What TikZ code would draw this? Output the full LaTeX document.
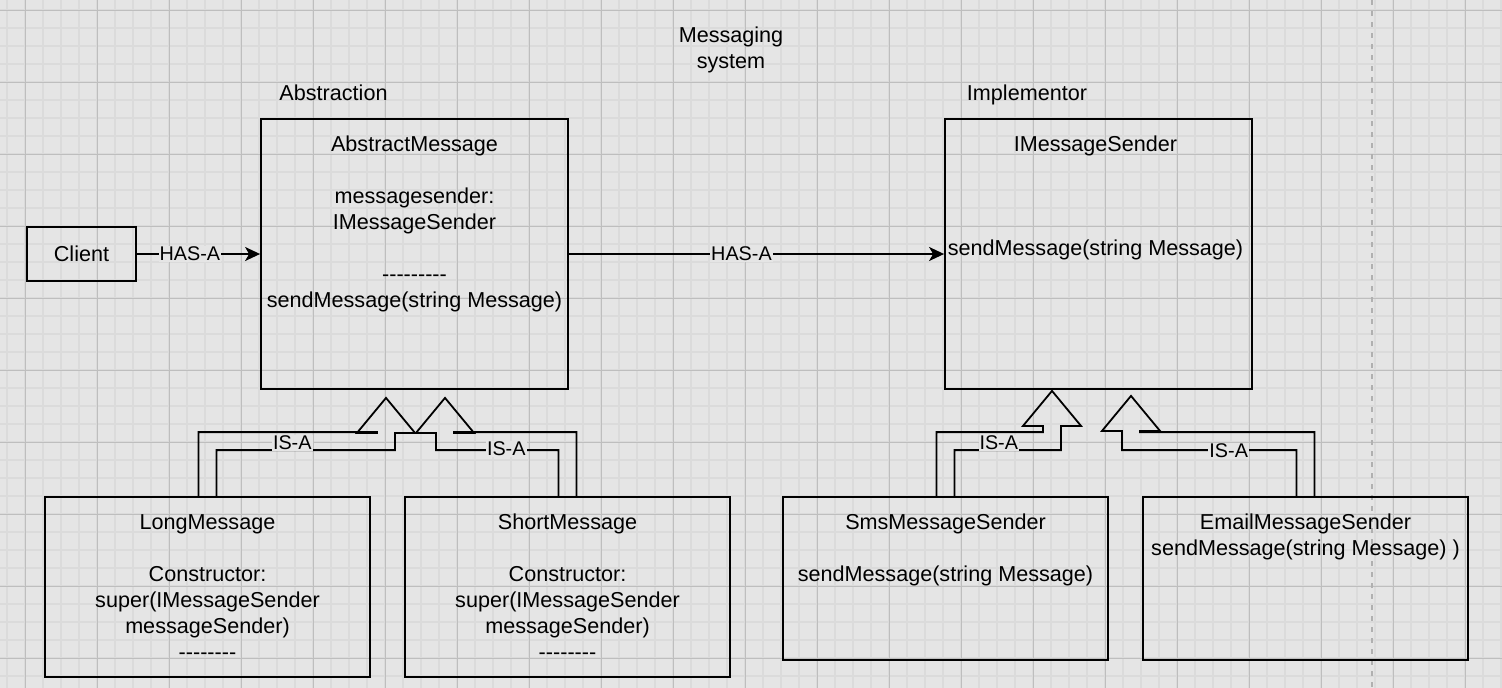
\documentclass[tikz,border=0pt]{standalone}
\usepackage{fontspec}
\setmainfont{Liberation Sans}
\usetikzlibrary{calc,arrows.meta}

\definecolor{canvas}{HTML}{E5E5E5}
\definecolor{gridminor}{HTML}{DBDBDB}
\definecolor{gridmajor}{HTML}{BEBEBE}
\definecolor{pageline}{HTML}{B0B0B0}

\tikzset{
	box/.style={draw,line width=1.8pt,rectangle,inner sep=0pt},
	boxtext/.style={anchor=north,align=center,inner sep=0pt,font=\fontsize{21.6}{26}\selectfont},
	edgelabel/.style={fill=canvas,inner sep=1pt,font=\fontsize{19.8}{24}\selectfont},
	hasa/.style={line width=1.8pt,-{Stealth[length=15pt,width=14pt,inset=4pt]}},
	isa/.style={line width=1.8pt,line join=miter},
}

% row of single hyphens (no dash ligatures)
\newcommand{\dashrow}[1]{\foreach \i in {1,...,#1}{\mbox{-}}}
% hollow IS-A arrow: #1 start, #2 tip, #3 direction (+1 right, -1 left)
\newcommand{\isaarrow}[3]{%
	\draw[isa] ($(#1)+({-9*(#3)},0)$) -- ++(0,-64)
		-| ($(#2)+({-9*(#3)},35)$) -- ++({-20*(#3)},0) -- (#2)
		-- ++({29*(#3)},35) -- ++({-20*(#3)},0)
		|- ($(#1)+({9*(#3)},-46)$) -- ++(0,46);
}

\begin{document}
\begin{tikzpicture}[x=1pt,y=-1pt]
	\fill[canvas] (0,0) rectangle (1502,688);
	\useasboundingbox (0,0) rectangle (1502,688);
	\foreach \gx in {7,25,...,1501} \draw[gridminor,line width=1.5pt] (\gx,0) -- (\gx,688);
	\foreach \gy in {10,28,...,676} \draw[gridminor,line width=1.5pt] (0,\gy) -- (1502,\gy);
	\foreach \gx in {25,97,...,1465} \draw[gridmajor,line width=1pt] (\gx,0) -- (\gx,688);
	\foreach \gy in {10,82,...,658} \draw[gridmajor,line width=1pt] (0,\gy) -- (1502,\gy);
	\draw[pageline,line width=1.5pt,dash pattern=on 5pt off 6pt] (1372,0) -- (1372,688);

	\node[boxtext] (title) at (731,27) {Messaging\\system};
	\node[boxtext,anchor=base] (abstraction) at (333.5,100) {Abstraction};
	\node[boxtext,anchor=base] (implementor) at (1027,100) {Implementor};

	\node[box,minimum width=109pt,minimum height=54pt,font=\fontsize{21.6}{26}\selectfont] (client) at (81.5,254) {Client};
	\node[box,minimum width=307pt,minimum height=270pt] (absmsg) at (414.5,254) {};
	\node[box,minimum width=307pt,minimum height=270pt] (imsg) at (1098.5,254) {};
	\node[box,minimum width=325pt,minimum height=180pt] (longmsg) at (207.5,587) {};
	\node[box,minimum width=325pt,minimum height=180pt] (shortmsg) at (567.5,587) {};
	\node[box,minimum width=325pt,minimum height=163pt] (smsmsg) at (945.5,578.5) {};
	\node[box,minimum width=325pt,minimum height=163pt] (emailmsg) at (1305.5,578.5) {};

	\node[boxtext] (absmsg-txt) at ([yshift=-18pt]absmsg.north) {AbstractMessage\\[26pt]messagesender:\\IMessageSender\\[26pt]\dashrow{9}\\sendMessage(string Message)};
	\node[boxtext] (imsg-txt) at ([xshift=-3pt,yshift=-18pt]imsg.north) {IMessageSender\\[78pt]sendMessage(string Message)};
	\node[boxtext] (longmsg-txt) at ([yshift=-18pt]longmsg.north) {LongMessage\\[26pt]Constructor:\\super(IMessageSender\\messageSender)\\\dashrow{8}};
	\node[boxtext] (shortmsg-txt) at ([yshift=-18pt]shortmsg.north) {ShortMessage\\[26pt]Constructor:\\super(IMessageSender\\messageSender)\\\dashrow{8}};
	\node[boxtext] (smsmsg-txt) at ([yshift=-18pt]smsmsg.north) {SmsMessageSender\\[26pt]sendMessage(string Message)};
	\node[boxtext] (emailmsg-txt) at ([yshift=-18pt]emailmsg.north) {EmailMessageSender\\sendMessage(string Message) )};

	\draw[hasa] (client) -- node[edgelabel,pos=0.43] (hasa-client) {HAS-A} (absmsg);
	\draw[hasa] (absmsg) -- node[edgelabel,pos=0.46] (hasa-abs) {HAS-A} (imsg);

	\coordinate (long-tip) at ([xshift=-28.5pt,yshift=-8pt]absmsg.south);
	\coordinate (short-tip) at ([xshift=30.5pt,yshift=-8pt]absmsg.south);
	\coordinate (sms-tip) at ([xshift=-46.5pt,yshift=-1pt]imsg.south);
	\coordinate (email-tip) at ([xshift=32.5pt,yshift=-6pt]imsg.south);

	\isaarrow{longmsg.north}{long-tip}{1}
	\isaarrow{shortmsg.north}{short-tip}{-1}
	\isaarrow{smsmsg.north}{sms-tip}{1}
	\isaarrow{emailmsg.north}{email-tip}{-1}

	\path (longmsg.north) -- (longmsg.north -| long-tip) node[edgelabel,pos=0.475,yshift=53pt] (isa-long) {IS-A};
	\path (shortmsg.north) -- (shortmsg.north -| short-tip) node[edgelabel,midway,yshift=47pt] (isa-short) {IS-A};
	\path (smsmsg.north) -- (smsmsg.north -| sms-tip) node[edgelabel,midway,yshift=53pt] (isa-sms) {IS-A};
	\path (emailmsg.north) -- (emailmsg.north -| email-tip) node[edgelabel,pos=0.44,yshift=45pt] (isa-email) {IS-A};
\end{tikzpicture}
\end{document}
